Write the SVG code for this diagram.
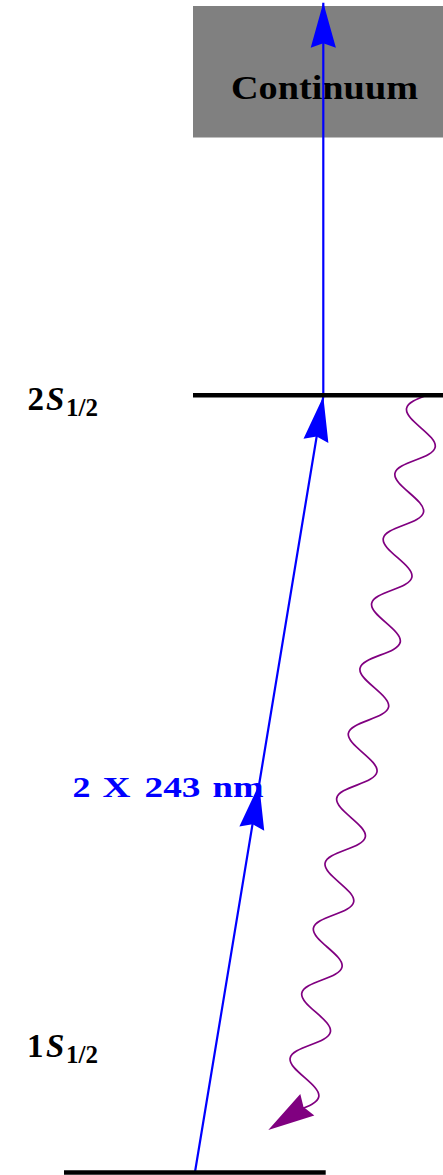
<svg xmlns="http://www.w3.org/2000/svg" width="443" height="1175" viewBox="0 0 443 1175">
<style>
.lvl{stroke:#000;stroke-width:4.6;fill:none}
.txt{font-family:"Liberation Serif","Times New Roman",serif;font-weight:bold;fill:#000}
.blue{stroke:#0000ff;stroke-width:2.2;fill:none}
.wave{stroke:#800080;stroke-width:1.7;fill:none}
.bl{fill:#0000ff}
</style>
<defs>
<marker id="stealth" viewBox="-47 -14 49 28" markerWidth="49" markerHeight="28" refX="0" refY="0" orient="auto" markerUnits="userSpaceOnUse">
<path d="M0,0 L-45,-12.6 L-40.5,0 L-45,12.6 Z" fill="#0000ff"/>
</marker>
</defs>
<rect width="443" height="1175" fill="#fff"/>
<g id="continuum">
<rect x="193" y="6" width="250" height="131.5" fill="#808080"/>
<text class="txt" x="231" y="99" font-size="34" textLength="187" lengthAdjust="spacingAndGlyphs">Continuum</text>
</g>
<g id="connectors">
<path id="ionization" class="blue" d="M323.3,395 L323.3,2.7" marker-end="url(#stealth)"/>
<path id="excitation" class="blue" d="M195,1172 L259.15,784.2 L323.3,396.5" marker-mid="url(#stealth)" marker-end="url(#stealth)"/>
<g id="decay">
<g transform="translate(426.7,395.3) rotate(100.16)">
<path class="wave" d="M0,0 c5.381,8.965 10.528,17.5 16.5,17.5 s11.119,-8.535 16.5,-17.5 s10.528,-17.5 16.5,-17.5 s11.119,8.535 16.5,17.5 s10.528,17.5 16.5,17.5 s11.119,-8.535 16.5,-17.5 s10.528,-17.5 16.5,-17.5 s11.119,8.535 16.5,17.5 s10.528,17.5 16.5,17.5 s11.119,-8.535 16.5,-17.5 s10.528,-17.5 16.5,-17.5 s11.119,8.535 16.5,17.5 s10.528,17.5 16.5,17.5 s11.119,-8.535 16.5,-17.5 s10.528,-17.5 16.5,-17.5 s11.119,8.535 16.5,17.5 s10.528,17.5 16.5,17.5 s11.119,-8.535 16.5,-17.5 s10.528,-17.5 16.5,-17.5 s11.119,8.535 16.5,17.5 s10.528,17.5 16.5,17.5 s11.119,-8.535 16.5,-17.5 s10.528,-17.5 16.5,-17.5 s11.119,8.535 16.5,17.5 s10.528,17.5 16.5,17.5 s11.119,-8.535 16.5,-17.5 s10.528,-17.5 16.5,-17.5 s11.119,8.535 16.5,17.5 s10.528,17.5 16.5,17.5 s11.119,-8.535 16.5,-17.5 s10.528,-17.5 16.5,-17.5 s11.119,8.535 16.5,17.5 s10.528,17.5 16.5,17.5 s11.119,-8.535 16.5,-17.5 s10.528,-17.5 16.5,-17.5 s11.119,8.535 16.5,17.5 s10.528,17.5 16.5,17.5 s11.119,-8.535 16.5,-17.5 s10.528,-17.5 16.5,-17.5 s11.119,8.535 16.5,17.5 s10.528,17.5 16.5,17.5 s11.119,-8.535 16.5,-17.5 s10.528,-17.5 16.5,-17.5 s11.119,8.535 16.5,17.5"/>
</g>
<path d="M268.3,1130 L300.3,1093.9 L303.5,1107.1 L314.3,1115.4 Z" fill="#800080"/>
</g>
</g>
<g id="level-2S">
<line class="lvl" x1="193" y1="395.3" x2="443" y2="395.3"/>
<text class="txt" y="410" font-size="33"><tspan x="27.5">2</tspan><tspan x="46" font-style="italic">S</tspan><tspan x="66" y="416" font-size="25">1/2</tspan></text>
</g>
<g id="level-1S">
<line class="lvl" x1="64" y1="1172.5" x2="325.7" y2="1172.5"/>
<text class="txt" y="1057" font-size="33"><tspan x="27">1</tspan><tspan x="46" font-style="italic">S</tspan><tspan x="66" y="1063" font-size="25">1/2</tspan></text>
</g>
<g id="excitation-label">
<text class="txt bl" x="72.5" y="797" font-size="30" textLength="18" lengthAdjust="spacingAndGlyphs">2</text>
<text class="txt bl" x="102.5" y="797" font-size="30" textLength="28" lengthAdjust="spacingAndGlyphs">X</text>
<text class="txt bl" x="144.5" y="797" font-size="30" textLength="56" lengthAdjust="spacingAndGlyphs">243</text>
<text class="txt bl" x="212.5" y="797" font-size="30" textLength="51" lengthAdjust="spacingAndGlyphs">nm</text>
</g>
</svg>
